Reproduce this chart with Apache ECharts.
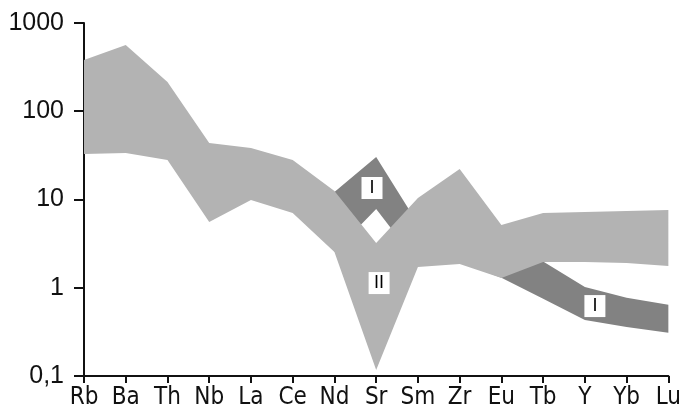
<!DOCTYPE html>
<html>
<head>
<meta charset="utf-8">
<script src="https://cdn.jsdelivr.net/npm/echarts@6/dist/echarts.min.js"></script>
<style>
html,body{margin:0;padding:0;background:#fff;}
#chart{width:684px;height:414px;}
</style>
</head>
<body>
<div id="chart"></div>
<script>
// Categories (elements)
var categories = ['Rb','Ba','Th','Nb','La','Ce','Nd','Sr','Sm','Zr','Eu','Tb','Y','Yb','Lu'];
// Field II (light band)
var bandIIUpper = [381, 564, 214, 43.6, 38.4, 28.0, 12.5, 3.21, 10.4, 22.2, 5.14, 7.03, 7.2, 7.4, 7.6];
var bandIILower = [32.8, 33.7, 28.0, 5.56, 9.87, 7.03, 2.54, 0.117, 1.72, 1.86, 1.29, 1.96, 1.96, 1.91, 1.76];
// Field I (dark band)
var bandIUpper = [null, null, null, null, null, null, 12.2, 30.3, 5.3, 4.0, 2.5, 1.98, 1.02, 0.77, 0.64];
var bandILower = [null, null, null, null, null, null, 2.54, 7.8, 1.9, 1.95, 1.30, 0.75, 0.43, 0.36, 0.31];
// Field labels
var fieldLabels = ['I', 'II', 'I'];
var fieldLabelX = [6.9, 7.07, 12.24];
var fieldLabelY = [13.5, 1.13, 0.62];
// Y tick labels
var yTickLabels = ['0,1', '1', '10', '100', '1000'];

function band(upper, lower, color, z) {
  return {
    type: 'custom',
    silent: true,
    z: z,
    data: [[0, 1]],
    renderItem: function (params, api) {
      var pts = [];
      for (var i = 0; i < upper.length; i++) {
        if (upper[i] != null) pts.push(api.coord([i, upper[i]]));
      }
      for (var j = lower.length - 1; j >= 0; j--) {
        if (lower[j] != null) pts.push(api.coord([j, lower[j]]));
      }
      return { type: 'polygon', shape: { points: pts }, style: { fill: color } };
    }
  };
}

var labelData = fieldLabels.map(function (t, k) {
  return { name: t, value: [fieldLabelX[k], fieldLabelY[k]] };
});

var chart = echarts.init(document.getElementById('chart'), null, { renderer: 'canvas' });
chart.setOption({
  animation: false,
  backgroundColor: '#fff',
  grid: { left: 84, right: 12, top: 23, bottom: 38 },
  xAxis: {
    type: 'value', min: 0, max: categories.length - 1, interval: 1,
    splitLine: { show: false },
    axisLine: { show: true, lineStyle: { color: '#111', width: 2 } },
    axisTick: { show: true, length: 7, lineStyle: { color: '#111', width: 2 } },
    axisLabel: {
      margin: 10, color: '#111', fontSize: 24,
      fontFamily: '"Liberation Sans Narrow", "DejaVu Sans Condensed", "Liberation Sans", sans-serif',
      formatter: function (v) { return categories[Math.round(v)]; }
    }
  },
  yAxis: {
    type: 'log', logBase: 10, min: 0.1, max: 1000,
    splitLine: { show: false },
    axisLine: { show: true, lineStyle: { color: '#111', width: 2 } },
    axisTick: { show: true, length: 10, lineStyle: { color: '#111', width: 2 } },
    axisLabel: {
      margin: 20, color: '#111', fontSize: 25,
      fontFamily: '"Liberation Sans", Arial, sans-serif',
      formatter: function (v, idx) { return yTickLabels[idx]; }
    }
  },
  series: [
    band(bandIUpper, bandILower, '#828282', 1),
    band(bandIIUpper, bandIILower, '#b3b3b3', 2),
    {
      type: 'scatter',
      z: 5,
      silent: true,
      symbol: 'rect',
      symbolSize: [21, 22],
      itemStyle: { color: '#ffffff', opacity: 1 },
      label: {
        show: true, position: 'inside', color: '#000', fontSize: 18,
        fontFamily: '"Liberation Sans", Arial, sans-serif',
        formatter: function (p) { return p.name; }
      },
      data: labelData
    }
  ]
});
</script>
</body>
</html>
